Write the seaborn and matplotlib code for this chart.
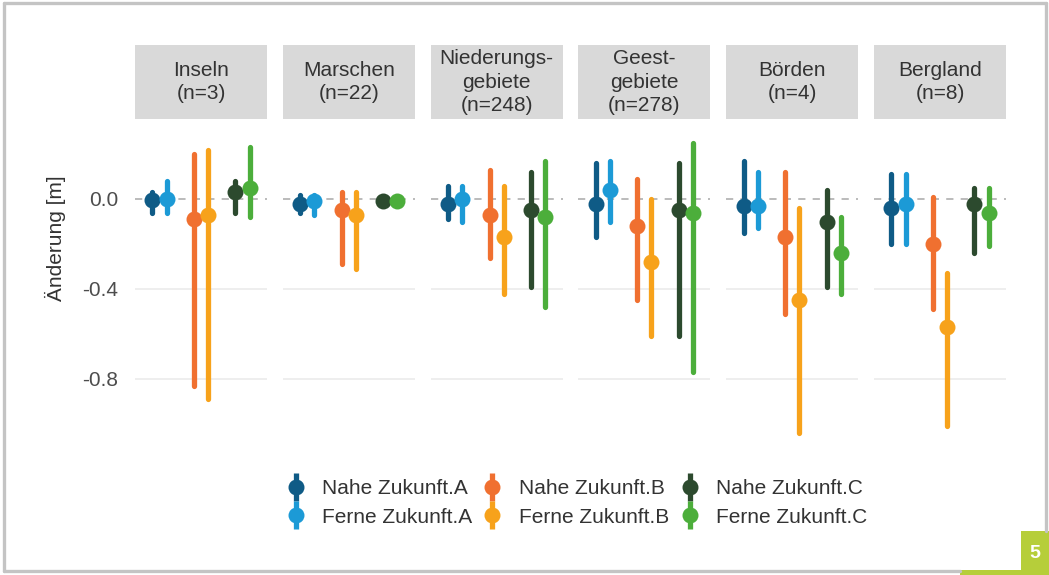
import matplotlib
matplotlib.use("Agg")
import pandas as pd
import matplotlib.pyplot as plt
import seaborn as sns
from matplotlib.lines import Line2D
from matplotlib.patches import Rectangle
from matplotlib.legend_handler import HandlerTuple

# ---------------------------------------------------------------------
# Data
# ---------------------------------------------------------------------
regions = ["Inseln\n(n=3)", "Marschen\n(n=22)", "Niederungs-\ngebiete\n(n=248)",
           "Geest-\ngebiete\n(n=278)", "Börden\n(n=4)", "Bergland\n(n=8)"]
scenarios = ["A", "B", "C"]
periods = ["Nahe Zukunft", "Ferne Zukunft"]
ytick_values = [0.0, -0.4, -0.8]
ytick_labels = ["0.0", "-0.4", "-0.8"]

# point value per region
nahe_a = [-0.005, -0.02, -0.02, -0.02, -0.03, -0.04]
ferne_a = [0.0, -0.01, 0.0, 0.04, -0.03, -0.02]
nahe_b = [-0.09, -0.05, -0.07, -0.12, -0.17, -0.20]
ferne_b = [-0.07, -0.07, -0.17, -0.28, -0.45, -0.57]
nahe_c = [0.03, -0.01, -0.05, -0.05, -0.10, -0.02]
ferne_c = [0.05, -0.01, -0.08, -0.06, -0.24, -0.06]

# lower end of range
nahe_a_lo = [-0.06, -0.06, -0.09, -0.17, -0.15, -0.20]
ferne_a_lo = [-0.06, -0.07, -0.10, -0.10, -0.13, -0.20]
nahe_b_lo = [-0.83, -0.29, -0.26, -0.45, -0.51, -0.49]
ferne_b_lo = [-0.89, -0.31, -0.42, -0.61, -1.04, -1.01]
nahe_c_lo = [-0.06, -0.02, -0.39, -0.61, -0.39, -0.24]
ferne_c_lo = [-0.08, -0.02, -0.48, -0.77, -0.42, -0.21]

# upper end of range
nahe_a_hi = [0.03, 0.02, 0.06, 0.16, 0.17, 0.11]
ferne_a_hi = [0.08, 0.02, 0.06, 0.17, 0.12, 0.11]
nahe_b_hi = [0.20, 0.03, 0.13, 0.09, 0.12, 0.01]
ferne_b_hi = [0.22, 0.03, 0.06, 0.0, -0.04, -0.33]
nahe_c_hi = [0.08, 0.0, 0.12, 0.16, 0.04, 0.05]
ferne_c_hi = [0.23, 0.0, 0.17, 0.25, -0.08, 0.05]

colors = {
    ("Nahe Zukunft", "A"): "#0f5b86", ("Ferne Zukunft", "A"): "#1c9ad6",
    ("Nahe Zukunft", "B"): "#f07030", ("Ferne Zukunft", "B"): "#f7a21b",
    ("Nahe Zukunft", "C"): "#2c4a2e", ("Ferne Zukunft", "C"): "#4cae3b",
}

series = {
    ("Nahe Zukunft", "A"): (nahe_a, nahe_a_lo, nahe_a_hi),
    ("Ferne Zukunft", "A"): (ferne_a, ferne_a_lo, ferne_a_hi),
    ("Nahe Zukunft", "B"): (nahe_b, nahe_b_lo, nahe_b_hi),
    ("Ferne Zukunft", "B"): (ferne_b, ferne_b_lo, ferne_b_hi),
    ("Nahe Zukunft", "C"): (nahe_c, nahe_c_lo, nahe_c_hi),
    ("Ferne Zukunft", "C"): (ferne_c, ferne_c_lo, ferne_c_hi),
}

# long table: lo / mid / hi per group -> median + full percentile range
rows = []
for (period, scen), (mid, lo, hi) in series.items():
    for i, region in enumerate(regions):
        for v in (lo[i], mid[i], hi[i]):
            rows.append({"region": region, "scenario": scen, "period": period, "value": v})
df = pd.DataFrame(rows)

# ---------------------------------------------------------------------
# Figure
# ---------------------------------------------------------------------
sns.set_theme(style="white")
plt.rcParams["font.family"] = ["Liberation Sans", "DejaVu Sans"]
FS = 15
TXT = "#333333"
MS = 11.5
LW = 3.8

W, H = 1049, 575
fig = plt.figure(figsize=(W / 100, H / 100), dpi=100)

panel_top, panel_bot = 119, 440
strip_top = 45
y0_px, px_per_unit = 199, 225
ylim = ((y0_px - panel_bot) / px_per_unit, (y0_px - panel_top) / px_per_unit)

for i, region in enumerate(regions):
    left = 135 + i * 147.8
    ax = fig.add_axes([left / W, 1 - panel_bot / H, 132 / W, (panel_bot - panel_top) / H])
    ax.axhline(-0.4, color="#ebebeb", lw=1.2, zorder=0)
    ax.axhline(-0.8, color="#ebebeb", lw=1.2, zorder=0)
    ax.axhline(0.0, color="#b5b5b5", lw=1.3, dashes=(4, 4), zorder=0)
    for scen in scenarios:
        sub = df[(df["region"] == region) & (df["scenario"] == scen)]
        sns.pointplot(
            data=sub, x="scenario", y="value", hue="period",
            order=scenarios, hue_order=periods,
            palette=[colors[(p, scen)] for p in periods],
            estimator="median", errorbar=("pi", 100),
            dodge=0.34, linestyle="none", markers="o",
            markersize=MS, markeredgewidth=0,
            err_kws={"linewidth": LW},
            legend=False, ax=ax,
        )
    ax.set_xlim(-0.59, 2.59)
    ax.set_ylim(*ylim)
    ax.set_xticks([])
    ax.set_xlabel("")
    ax.set_ylabel("")
    for s in ax.spines.values():
        s.set_visible(False)
    if i == 0:
        ax.set_yticks(ytick_values)
        ax.set_yticklabels(ytick_labels, fontsize=FS, color="#4d4d4d")
        ax.tick_params(axis="y", length=0, pad=12)
    else:
        ax.set_yticks([])
    # facet strip
    strip_h = (panel_bot - strip_top) / (panel_bot - panel_top)
    ax.add_patch(Rectangle((0, 1.0), 1, strip_h - 1.0, transform=ax.transAxes,
                           facecolor="#d9d9d9", edgecolor="none", clip_on=False))
    ax.text(0.5, (1.0 + strip_h) / 2, region, transform=ax.transAxes,
            ha="center", va="center", fontsize=FS, color=TXT, linespacing=1.3)

fig.text(55 / W, 1 - 238 / H, "Änderung [m]", rotation=90, ha="center", va="center",
         fontsize=FS, color=TXT)

# legend: point-range glyphs (bar and dot drawn on top of each other)
handles, labels = [], []
for scen in scenarios:
    for period in periods:
        c = colors[(period, scen)]
        bar = Line2D([], [], marker="|", markersize=20, markeredgewidth=LW,
                     linestyle="none", color=c)
        dot = Line2D([], [], marker="o", markersize=MS, markeredgewidth=0,
                     linestyle="none", color=c)
        handles.append((bar, dot))
        labels.append(f"{period}.{scen}")
fig.legend(handles, labels, ncol=3, loc="center",
           bbox_to_anchor=(576 / W, 1 - 503 / H), frameon=False,
           fontsize=FS, labelcolor=TXT, handlelength=1.0, handletextpad=0.75,
           columnspacing=0.5, labelspacing=0.45,
           handler_map={tuple: HandlerTuple(ndivide=1)})

# page frame and green number box
gray = "#c4c4c4"
green = "#b6ce3a"
fig.add_artist(Line2D([4 / W, 4 / W], [1 - 571 / H, 1 - 3 / H], color=gray, lw=2.4, transform=fig.transFigure))
fig.add_artist(Line2D([4 / W, 1046 / W], [1 - 3 / H, 1 - 3 / H], color=gray, lw=2.4, transform=fig.transFigure))
fig.add_artist(Line2D([1046 / W, 1046 / W], [1 - 3 / H, 1 - 531 / H], color=gray, lw=2.4, transform=fig.transFigure))
fig.add_artist(Line2D([4 / W, 960 / W], [1 - 571 / H, 1 - 571 / H], color=gray, lw=2.4, transform=fig.transFigure))
fig.add_artist(Rectangle((960 / W, 0), 89 / W, 5 / H, transform=fig.transFigure,
                         facecolor=green, edgecolor="none"))
fig.add_artist(Rectangle((1021 / W, 0), 28 / W, 44 / H, transform=fig.transFigure,
                         facecolor=green, edgecolor="none"))
fig.text(1035 / W, 1 - 553 / H, "5", ha="center", va="center", fontsize=14,
         fontweight="bold", color="white")

fig.savefig("out.png", dpi=100)
